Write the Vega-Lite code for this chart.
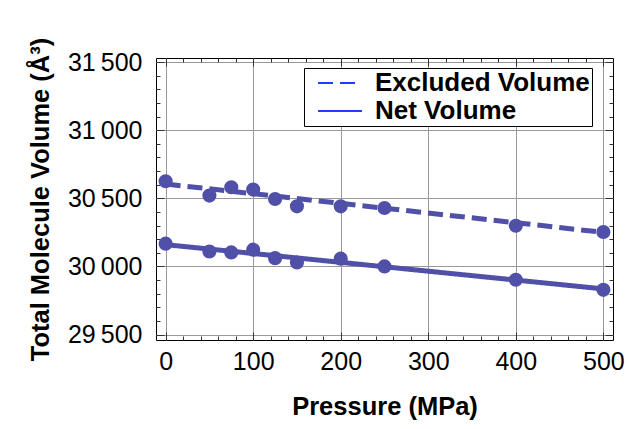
{
  "$schema": "https://vega.github.io/schema/vega-lite/v6.json",
  "width": 457,
  "height": 282,
  "autosize": "none",
  "padding": {"left": 156, "top": 58, "right": 16, "bottom": 89},
  "background": "white",
  "config": {
    "view": {"stroke": "black", "strokeWidth": 1},
    "font": "Liberation Sans",
    "axis": {
      "labelFont": "Liberation Sans",
      "labelColor": "black",
      "labelFontSize": 25,
      "titleFont": "Liberation Sans",
      "titleFontSize": 25.5,
      "titleFontWeight": "bold",
      "titleColor": "black",
      "domain": false,
      "tickColor": "#333",
      "gridColor": "#999",
      "gridWidth": 1
    }
  },
  "datasets": {
    "points": [
      {"series": "Excluded Volume", "pressure": 0, "volume": 30625},
      {"series": "Excluded Volume", "pressure": 50, "volume": 30520},
      {"series": "Excluded Volume", "pressure": 75, "volume": 30581},
      {"series": "Excluded Volume", "pressure": 100, "volume": 30564},
      {"series": "Excluded Volume", "pressure": 125, "volume": 30495},
      {"series": "Excluded Volume", "pressure": 150, "volume": 30441},
      {"series": "Excluded Volume", "pressure": 200, "volume": 30441},
      {"series": "Excluded Volume", "pressure": 250, "volume": 30429},
      {"series": "Excluded Volume", "pressure": 400, "volume": 30299},
      {"series": "Excluded Volume", "pressure": 500, "volume": 30253},
      {"series": "Net Volume", "pressure": 0, "volume": 30167},
      {"series": "Net Volume", "pressure": 50, "volume": 30110},
      {"series": "Net Volume", "pressure": 75, "volume": 30103},
      {"series": "Net Volume", "pressure": 100, "volume": 30123},
      {"series": "Net Volume", "pressure": 125, "volume": 30061},
      {"series": "Net Volume", "pressure": 150, "volume": 30029},
      {"series": "Net Volume", "pressure": 200, "volume": 30057},
      {"series": "Net Volume", "pressure": 250, "volume": 30000},
      {"series": "Net Volume", "pressure": 400, "volume": 29902},
      {"series": "Net Volume", "pressure": 500, "volume": 29828}
    ],
    "fit": [
      {"series": "Excluded Volume", "pressure": 0, "volume": 30605},
      {"series": "Excluded Volume", "pressure": 500, "volume": 30250},
      {"series": "Net Volume", "pressure": 0, "volume": 30160},
      {"series": "Net Volume", "pressure": 500, "volume": 29835}
    ]
  },
  "layer": [
    {
      "data": {"name": "fit"},
      "mark": {"type": "line", "color": "#5050a8", "strokeWidth": 5},
      "encoding": {
        "x": {
          "field": "pressure", "type": "quantitative",
          "scale": {"domain": [-11, 511], "nice": false, "zero": false},
          "axis": {
            "orient": "bottom",
            "title": "Pressure (MPa)",
            "values": [0,20,40,60,80,100,120,140,160,180,200,220,240,260,280,300,320,340,360,380,400,420,440,460,480,500],
            "labelExpr": "datum.value % 100 === 0 ? datum.label : ''",
            "tickSize": {"condition": {"test": "datum.value % 100 === 0", "value": -8}, "value": -4},
            "gridOpacity": {"condition": {"test": "datum.value % 100 === 0", "value": 1}, "value": 0},
            "labelPadding": 17,
            "labelFlush": false,
            "labelOverlap": false,
            "titlePadding": 16
          }
        },
        "y": {
          "field": "volume", "type": "quantitative",
          "scale": {"domain": [29460, 31530], "nice": false, "zero": false},
          "axis": {
            "orient": "left",
            "title": "Total Molecule Volume (Å³)",
            "values": [29500,29600,29700,29800,29900,30000,30100,30200,30300,30400,30500,30600,30700,30800,30900,31000,31100,31200,31300,31400,31500],
            "labelExpr": "datum.value % 500 === 0 ? replace(format(datum.value, ','), ',', '\u2009') : ''",
            "tickSize": {"condition": {"test": "datum.value % 500 === 0", "value": -8}, "value": -4},
            "gridOpacity": {"condition": {"test": "datum.value % 500 === 0", "value": 1}, "value": 0},
            "labelPadding": 22,
            "labelOverlap": false,
            "labelFlush": false,
            "titlePadding": 14
          }
        },
        "strokeDash": {
          "field": "series", "type": "nominal",
          "scale": {"domain": ["Excluded Volume", "Net Volume"], "range": [[15, 7], [1, 0]]},
          "legend": {
            "title": null,
            "orient": "none",
            "legendX": 148,
            "legendY": 10,
            "symbolType": "M-2,0H2",
            "symbolStrokeColor": "#1f3cff",
            "symbolStrokeWidth": 2,
            "symbolSize": 484,
            "labelFont": "Liberation Sans",
            "labelFontSize": 26,
            "labelFontWeight": "bold",
            "labelColor": "black",
            "labelLimit": 400,
            "labelOffset": 22,
            "symbolOffset": 21,
            "strokeColor": "black",
            "fillColor": "white",
            "padding": 2,
            "rowPadding": 2,
            "encode": {
              "symbols": {"update": {"strokeDash": {"signal": "datum.value === 'Net Volume' ? [1, 0] : [15, 7]"}}}
            }
          }
        }
      }
    },
    {
      "data": {"name": "points"},
      "mark": {"type": "point", "filled": true, "color": "#5050a8", "size": 200, "opacity": 1},
      "encoding": {
        "x": {
          "field": "pressure", "type": "quantitative",
          "axis": {
            "orient": "top",
            "title": null,
            "labels": false,
            "grid": false,
            "values": [0,20,40,60,80,100,120,140,160,180,200,220,240,260,280,300,320,340,360,380,400,420,440,460,480,500],
            "tickSize": {"condition": {"test": "datum.value % 100 === 0", "value": -8}, "value": -4}
          }
        },
        "y": {
          "field": "volume", "type": "quantitative",
          "axis": {
            "orient": "right",
            "title": null,
            "labels": false,
            "grid": false,
            "values": [29500,29600,29700,29800,29900,30000,30100,30200,30300,30400,30500,30600,30700,30800,30900,31000,31100,31200,31300,31400,31500],
            "tickSize": {"condition": {"test": "datum.value % 500 === 0", "value": -8}, "value": -4}
          }
        }
      }
    }
  ],
  "resolve": {"axis": {"x": "independent", "y": "independent"}}
}
